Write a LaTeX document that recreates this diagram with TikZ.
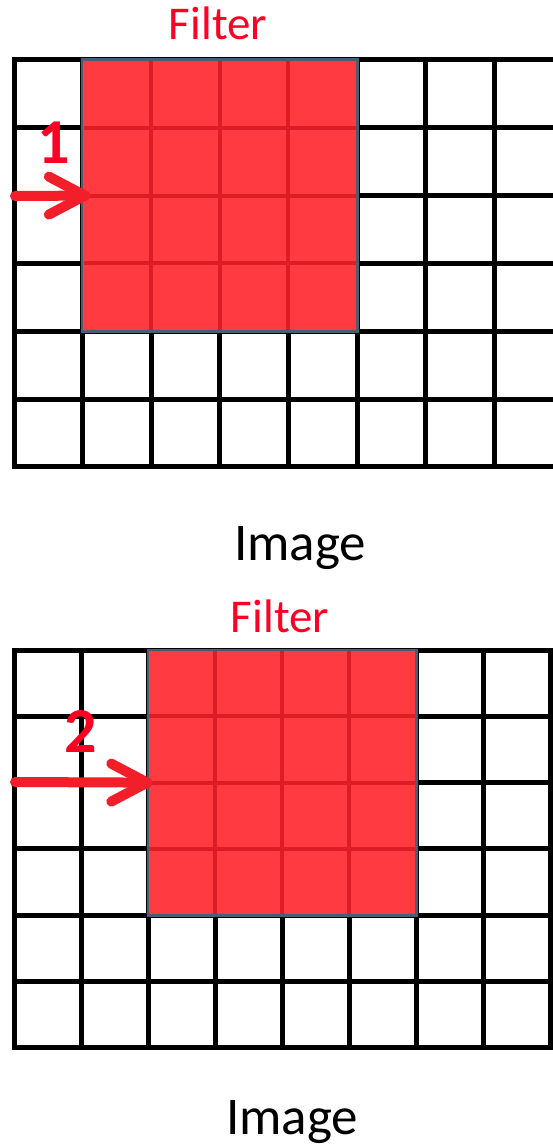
\documentclass[tikz,border=0pt]{standalone}
\usepackage{fontspec}
\setmainfont{Carlito}
\usetikzlibrary{calc}
\definecolor{filterfill}{RGB}{255,58,64}
\definecolor{filterline}{RGB}{222,28,38}
\definecolor{filterborder}{RGB}{78,92,112}
\definecolor{textred}{RGB}{255,0,36}
\definecolor{arrowred}{RGB}{242,30,42}
\tikzset{
  gridline/.style={line width=5pt, black, line cap=rect},
  filterbox/.style={draw=filterborder, line width=1.5pt, fill=filterfill, rectangle, inner sep=0pt},
  innerline/.style={line width=4pt, filterline},
  arrowline/.style={line width=10pt, arrowred, line cap=round, line join=round},
  filtertext/.style={text=textred, font=\fontsize{47}{54}\selectfont, anchor=base, inner sep=0pt},
  imagetext/.style={text=black, font=\fontsize{53}{60}\selectfont, anchor=base, inner sep=0pt},
  numtext/.style={text=textred, font=\bfseries\fontsize{64}{70}\selectfont, inner sep=0pt},
}
\begin{document}
\begin{tikzpicture}[x=1pt,y=-1pt]
\useasboundingbox (0,0) rectangle (553,1147);
\fill[white] (0,0) rectangle (553,1147);
\begin{scope}
\clip (0,0) rectangle (553,1147);
% ---------- top grid ----------
\foreach \r in {0,...,6}{
  \draw[gridline] (14,{60+\r*67.8}) -- (570,{60+\r*67.8});
}
\foreach \c in {0,...,8}{
  \draw[gridline] ({14+\c*68.6},60) -- ({14+\c*68.6},466.8);
}
% top filter
\node[filterbox, minimum width=274.4pt, minimum height=271.2pt] (f1) at ({14+68.6+137.2},{60+135.6}) {};
\foreach \c in {1,2,3}{
  \draw[innerline] ({82.6+\c*68.6},{60+1}) -- ({82.6+\c*68.6},{331.2-1});
}
\foreach \r in {1,2,3}{
  \draw[innerline] ({82.6+1},{60+\r*67.8}) -- ({357-1},{60+\r*67.8});
}
\draw[filterborder, line width=1.5pt] (f1.north west) rectangle (f1.south east);
\node[filtertext] (t1) at (218,40) {Filter};
\node[imagetext] (i1) at (300,560) {Image};
\node[numtext] (n1) at (54,143) {1};
\coordinate (s1) at (15,196);
\coordinate (tip1) at ($(f1.west)+(3,0)$);
\draw[arrowline] (s1) -- (tip1);
\draw[arrowline] ($(tip1)+(-36,-19)$) -- (tip1) -- ($(tip1)+(-36,19)$);
% ---------- bottom grid ----------
\foreach \r in {0,...,6}{
  \draw[gridline] (14,{650+\r*66.3}) -- (550,{650+\r*66.3});
}
\foreach \c in {0,...,8}{
  \draw[gridline] ({14+\c*67},650) -- ({14+\c*67},1047.8);
}
\node[filterbox, minimum width=268pt, minimum height=265.2pt] (f2) at ({14+134+134},{650+132.6}) {};
\foreach \c in {1,2,3}{
  \draw[innerline] ({148+\c*67},{650+1}) -- ({148+\c*67},{915.2-1});
}
\foreach \r in {1,2,3}{
  \draw[innerline] ({148+1},{650+\r*66.3}) -- ({416-1},{650+\r*66.3});
}
\draw[filterborder, line width=1.5pt] (f2.north west) rectangle (f2.south east);
\node[filtertext] (t2) at (280,632) {Filter};
\node[imagetext] (i2) at (292,1134) {Image};
\node[numtext] (n2) at (81,732) {2};
\coordinate (s2) at (15,782);
\coordinate (tip2) at ($(f2.west)+(0,0)$);
\draw[arrowline] (s2) -- (tip2);
\draw[arrowline] ($(tip2)+(-36,-19)$) -- (tip2) -- ($(tip2)+(-36,19)$);
\end{scope}
\end{tikzpicture}
\end{document}
